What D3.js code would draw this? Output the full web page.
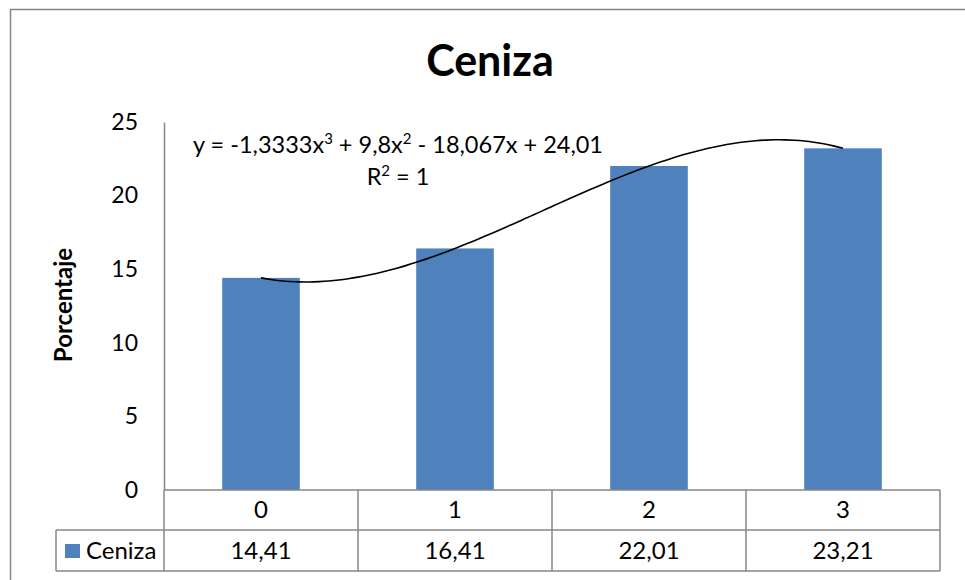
<!DOCTYPE html>
<html>
<head>
<meta charset="utf-8">
<script src="https://cdn.jsdelivr.net/npm/d3@7"></script>
<style>
  body { margin: 0; background: #fff; }
  svg text { font-family: Lato, "Open Sans", sans-serif; fill: #000; }
</style>
</head>
<body>
<div id="chart"></div>
<script>
// ---- data ----
const categories = ["0", "1", "2", "3"];
const ceniza = [14.41, 16.41, 22.01, 23.21];
const valueLabels = ["14,41", "16,41", "22,01", "23,21"];
const yTicks = [0, 5, 10, 15, 20, 25];
// polynomial trend (order 3), Excel uses x = 1..n
const trendCoef = [24.01, -18.067, 9.8, -1.3333];

const width = 965, height = 580;
const plot = {left: 164, right: 940, top: 122, bottom: 490};
const rowH = [40, 41];
const legendLeft = 56;
const gridColor = "#878787";
const barColor = "#4F81BD";

const svg = d3.select("#chart").append("svg")
    .attr("width", width)
    .attr("height", height);

svg.append("rect").attr("width", width).attr("height", height).attr("fill", "#fff");

// outer chart border (clipped at right/bottom like the source)
svg.append("rect")
    .attr("x", 10.5).attr("y", 9.5)
    .attr("width", 980).attr("height", 600)
    .attr("fill", "none")
    .attr("stroke", gridColor)
    .attr("stroke-width", 1.5);

const x = d3.scaleBand()
    .domain(categories)
    .range([plot.left, plot.right])
    .paddingInner(0.6)
    .paddingOuter(0.3);

const xCat = d3.scaleBand()
    .domain(categories)
    .range([plot.left, plot.right]);

const y = d3.scaleLinear()
    .domain([0, 25])
    .range([plot.bottom, plot.top]);

// bars
svg.append("g")
    .selectAll("rect")
    .data(ceniza)
    .enter()
    .append("rect")
    .attr("x", (d, i) => x(categories[i]))
    .attr("y", d => y(d))
    .attr("width", x.bandwidth())
    .attr("height", d => y(0) - y(d))
    .attr("fill", barColor);

// y axis
const yAxis = svg.append("g")
    .attr("transform", `translate(${plot.left},0)`)
    .call(d3.axisLeft(y).tickValues(yTicks).tickSize(0).tickPadding(26));
yAxis.select(".domain").attr("stroke", gridColor).attr("stroke-width", 1.5);
yAxis.selectAll("text")
    .style("font-family", "Lato, sans-serif")
    .style("font-size", "23px")
    .attr("fill", "#000");

// trendline
const xT = d3.scaleLinear()
    .domain([1, categories.length])
    .range([xCat(categories[0]) + xCat.bandwidth() / 2,
            xCat(categories[categories.length - 1]) + xCat.bandwidth() / 2]);
const poly = t => trendCoef.reduce((s, c, k) => s + c * Math.pow(t, k), 0);
const tSteps = d3.range(1, 4.001, 0.05);
svg.append("path")
    .datum(tSteps)
    .attr("fill", "none")
    .attr("stroke", "#000")
    .attr("stroke-width", 1.6)
    .attr("d", d3.line().x(t => xT(t)).y(t => y(poly(t))).curve(d3.curveMonotoneX));

// data table grid
const g = svg.append("g").attr("stroke", gridColor).attr("stroke-width", 1.5);
const r1 = plot.bottom + rowH[0], r2 = r1 + rowH[1];
g.append("line").attr("x1", plot.left).attr("x2", plot.right).attr("y1", plot.bottom).attr("y2", plot.bottom);
g.append("line").attr("x1", legendLeft).attr("x2", plot.right).attr("y1", r1).attr("y2", r1);
g.append("line").attr("x1", legendLeft).attr("x2", plot.right).attr("y1", r2).attr("y2", r2);
g.append("line").attr("x1", legendLeft).attr("x2", legendLeft).attr("y1", r1).attr("y2", r2);
g.append("line").attr("x1", plot.left).attr("x2", plot.left).attr("y1", plot.bottom).attr("y2", r2);
categories.forEach(c => {
    const xr = xCat(c) + xCat.bandwidth();
    g.append("line").attr("x1", xr).attr("x2", xr).attr("y1", plot.bottom).attr("y2", r2);
});

// category labels and values
categories.forEach((c, i) => {
    const cx = xCat(c) + xCat.bandwidth() / 2;
    svg.append("text")
        .attr("x", cx).attr("y", plot.bottom + rowH[0] / 2)
        .attr("dy", "0.35em")
        .attr("text-anchor", "middle")
        .style("font-size", "24px")
        .text(c);
    svg.append("text")
        .attr("x", cx).attr("y", r1 + rowH[1] / 2)
        .attr("dy", "0.35em")
        .attr("text-anchor", "middle")
        .style("font-size", "24px")
        .text(valueLabels[i]);
});

// legend key in table
svg.append("rect")
    .attr("x", 65).attr("y", 544)
    .attr("width", 15).attr("height", 14)
    .attr("fill", barColor);
svg.append("text")
    .attr("x", 86).attr("y", r1 + rowH[1] / 2)
    .attr("dy", "0.35em")
    .style("font-size", "24px")
    .text("Ceniza");

// title
svg.append("text")
    .attr("x", 490).attr("y", 76)
    .attr("text-anchor", "middle")
    .style("font-size", "43px")
    .style("font-weight", "700")
    .text("Ceniza");

// y label
svg.append("text")
    .attr("transform", "rotate(-90)")
    .attr("x", -305).attr("y", 72)
    .attr("text-anchor", "middle")
    .style("font-size", "24px")
    .style("font-weight", "700")
    .text("Porcentaje");

// trendline equation
const eq = svg.append("text")
    .attr("x", 398).attr("y", 153)
    .attr("text-anchor", "middle")
    .style("font-size", "23.5px");
eq.append("tspan").text("y = -1,3333x");
eq.append("tspan").attr("dy", -9).style("font-size", "15px").text("3");
eq.append("tspan").attr("dy", 9).text(" + 9,8x");
eq.append("tspan").attr("dy", -9).style("font-size", "15px").text("2");
eq.append("tspan").attr("dy", 9).text(" - 18,067x + 24,01");

const r2t = svg.append("text")
    .attr("x", 398).attr("y", 185)
    .attr("text-anchor", "middle")
    .style("font-size", "23.5px");
r2t.append("tspan").text("R");
r2t.append("tspan").attr("dy", -9).style("font-size", "15px").text("2");
r2t.append("tspan").attr("dy", 9).text(" = 1");
</script>
</body>
</html>
